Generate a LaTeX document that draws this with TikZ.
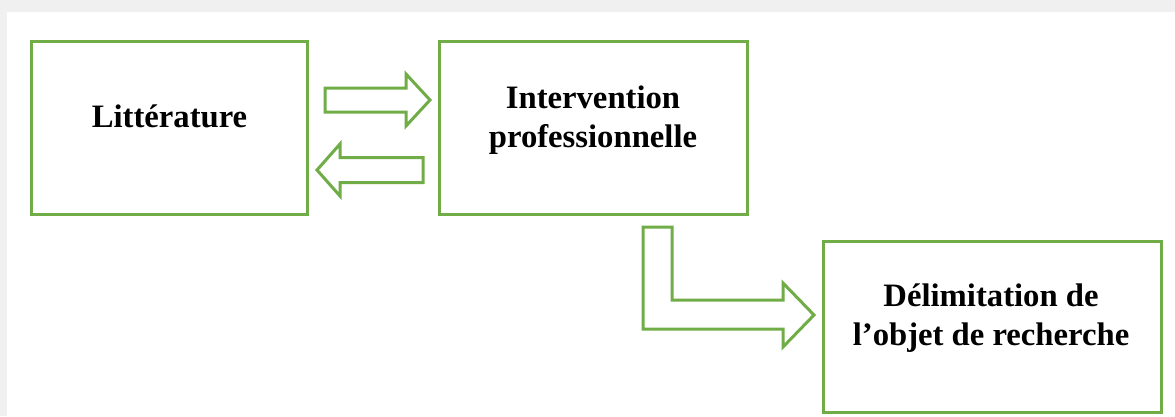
\documentclass[tikz,border=0pt]{standalone}
\usepackage{fontspec}
\setmainfont{Liberation Serif}
\definecolor{boxgreen}{HTML}{70AD47}
\tikzset{
  box/.style={draw=boxgreen, line width=0.06cm, fill=white, inner sep=0pt},
  lbl/.style={align=center, inner sep=0pt, font=\fontsize{18.6}{22.2}\selectfont\bfseries},
  blockarrow/.style={draw=boxgreen, line width=0.06cm, line join=miter, fill=white}
}
\begin{document}
\begin{tikzpicture}[x=0.02cm, y=-0.02cm]
    \useasboundingbox (0,0) rectangle (1175,416);
    % page background with grey shadow at the top
    \fill[black!6] (0,0) rectangle (1175,416);
    \fill[white] (7,12) rectangle (1175,416);

    % --- boxes ---
    \node[box, minimum width=5.54cm, minimum height=3.46cm] (lit) at (169.5,128) {};
    \node[box, minimum width=6.18cm, minimum height=3.46cm] (inter) at (593.5,128) {};
    \node[box, minimum width=6.78cm, minimum height=3.44cm] (delim) at (992.5,327) {};

    \node[lbl] (litT) at (169.5,116) {Littérature};
    \node[lbl] (interT) at (593,120) {Intervention\\professionnelle};
    \node[lbl] (delimT) at (991,318.5) {Délimitation de\\l’objet de recherche};

    % --- block arrows ---
    \draw[blockarrow] (325,88) -- (406,88) -- (406,74) -- (430,100) -- (406,126) -- (406,112) -- (325,112) -- cycle;
    \draw[blockarrow] (423,157.5) -- (340,157.5) -- (340,144) -- (317,170) -- (340,196) -- (340,182.5) -- (423,182.5) -- cycle;
    \draw[blockarrow] (643,227) -- (672,227) -- (672,300) -- (783,300) -- (783,283) -- (814,315) -- (783,347) -- (783,329) -- (643,329) -- cycle;
\end{tikzpicture}
\end{document}
